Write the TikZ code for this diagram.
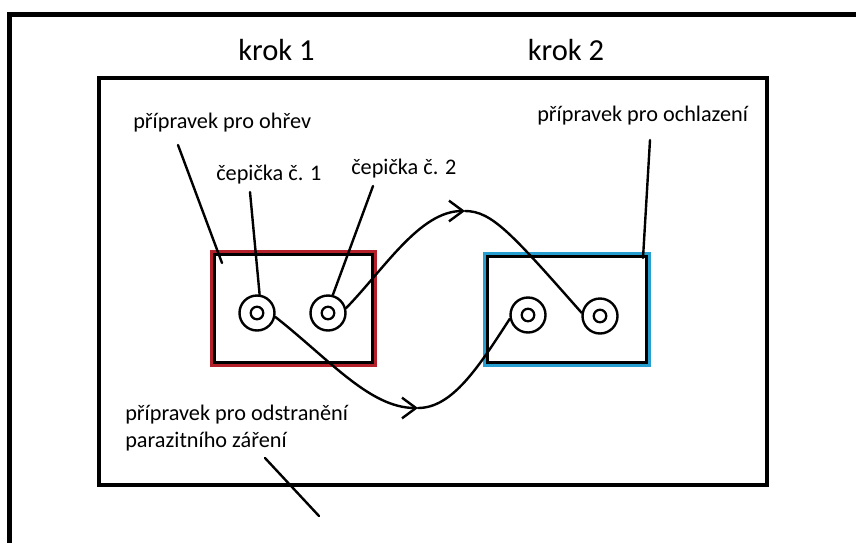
\documentclass[tikz,border=0pt]{standalone}
\usepackage{fontspec}
\setmainfont{Carlito}
\usetikzlibrary{arrows.meta}
\definecolor{redc}{RGB}{180,32,42}
\definecolor{bluec}{RGB}{38,158,208}
\begin{document}
\begin{tikzpicture}[x=0.75pt,y=-0.75pt,
  lbl/.style={anchor=base west, inner sep=0pt, font=\fontsize{16.7pt}{20pt}\selectfont},
  ttl/.style={anchor=base, inner sep=0pt, font=\fontsize{22.9pt}{27pt}\selectfont},
  ln/.style={line width=1.8pt, line cap=round},
  capnode/.style={circle, draw, line width=1.8pt, minimum size=26.25pt, inner sep=0pt,
    path picture={\draw[line width=1.7pt] (path picture bounding box.center) circle[radius=4.7pt];}},
  arr/.style={-{Straight Barb[length=10.5pt,width=15.5pt]}},
  boxout/.style={line width=4.5pt, inner sep=0pt},
  boxin/.style={draw=black, line width=2.25pt, inner sep=0pt}
]
\useasboundingbox[fill=white] (0,0) rectangle (856,543);

% frames
\draw[line width=3.4pt] (856,14.5) -- (9.5,14.5) -- (9.5,543);
\draw[line width=3pt] (99,77.5) rectangle (767,485);

% titles
\node[ttl] (k1) at (276.5,60) {krok 1};
\node[ttl] (k2) at (566,60) {krok 2};

% boxes
\node[boxout, draw=redc, minimum width=120.75pt, minimum height=83.25pt] (rb) at (293.5,308.5) {};
\node[boxin, minimum width=118.5pt, minimum height=81pt] (rbi) at (rb.center) {};
\node[boxout, draw=bluec, minimum width=121.5pt, minimum height=81.75pt] (bb) at (567,309.5) {};
\node[boxin, minimum width=119.25pt, minimum height=79.5pt] (bbi) at (bb.center) {};

% caps
\node[capnode] (c1) at (257,313) {};
\node[capnode] (c2) at (328,313) {};
\node[capnode] (c3) at (528,315) {};
\node[capnode] (c4) at (600,316) {};

% labels
\node[lbl] (t1) at (133,128) {přípravek pro ohřev};
\node[lbl] (t2) at (216,180) {čepička č. 1};
\node[lbl] (t3) at (351,174) {čepička č. 2};
\node[lbl] (t4) at (537,121) {přípravek pro ochlazení};
\node[lbl] (t5) at (125,420) {přípravek pro odstranění};
\node[lbl] (t6) at (125,447) {parazitního záření};

% leader lines
\coordinate (a1) at (178,145);
\coordinate (a1e) at (222,263);
\coordinate (a2) at (250,192);
\coordinate (a3) at (373,186);
\coordinate (a4) at (650,140);
\coordinate (a4e) at (643,258);
\coordinate (a5) at (265,458);
\coordinate (a5e) at (319,516);
\draw[ln] (a1) -- (a1e);
\draw[ln] (a2) -- (c1.82);
\draw[ln] (a3) -- (c2.75);
\draw[ln] (a4) -- (a4e);
\draw[ln] (a5) -- (a5e);

% transfer curves
\coordinate (pA) at (465,211);
\draw[ln, arr] (c2.15) .. controls (385,268) and (420,211) .. (pA);
\draw[ln] (pA) .. controls (492,211) and (512,234) .. (c4.170);
\coordinate (pB) at (418,408);
\draw[ln, arr] (c1.-12) .. controls (330,360) and (370,408) .. (pB);
\draw[ln] (pB) .. controls (452,408) and (478,368) .. (c3.192);
\end{tikzpicture}
\end{document}
